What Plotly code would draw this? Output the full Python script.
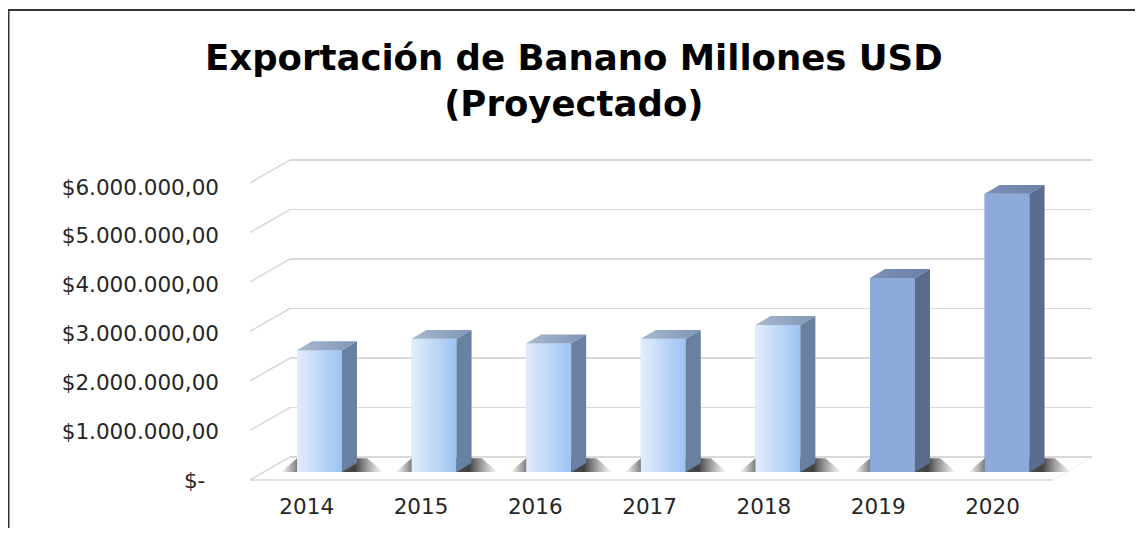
import plotly.graph_objects as go

# ---------------- data ----------------
years = ["2014", "2015", "2016", "2017", "2018", "2019", "2020"]
values = [2460000, 2690000, 2600000, 2690000, 2970000, 3920000, 5620000]
tick_vals = [0, 1000000, 2000000, 3000000, 4000000, 5000000, 6000000]
tick_text = ["$-\u00a0\u00a0", "$1.000.000,00", "$2.000.000,00", "$3.000.000,00",
             "$4.000.000,00", "$5.000.000,00", "$6.000.000,00"]
title_lines = ["Exportación de Banano Millones USD", "(Proyectado)"]
n_real = 5  # first five are light bars, last two darker (projected)

# ---------------- layout constants ----------------
OFF = 8                                 # page body margin
W, H = 1143 - 2 * OFF, 536 - 2 * OFF    # figure size (no scrollbars)
BAR_W = 0.392      # category units
DX = 0.131         # depth offset in category units
DY = 0.18e6        # depth offset in value units
FRONT_SHIFT = 0.465e6  # front-floor offset vs back wall in value units


def px(p):
    return p - OFF


def yrange(zero_page_px, px_per_unit):
    r0 = -(H - px(zero_page_px)) / px_per_unit
    return [r0, r0 + H / px_per_unit]


def xrange_(first_page_px, px_per_cat):
    r0 = -px(first_page_px) / px_per_cat
    return [r0, r0 + W / px_per_cat]


xs = list(range(len(years)))

light = dict(front="#bcd6f8", grad=["#e2edfb", "#9cc3f4"], side="#6880a2", top=["#a9b9cf", "#7f95b5"])
dark = dict(front="#8eaadb", grad=["#8eaadb", "#8eaadb"], side="#5b6b8e", top=["#7d92b8", "#6a7ea6"])
styles = [light if i < n_real else dark for i in xs]

fig = go.Figure()

# subplot xy: back wall gridlines (empty trace so the subplot exists)
fig.add_trace(go.Scatter(x=[], y=[], xaxis="x", yaxis="y", showlegend=False, hoverinfo="skip"))

# shadows on floor
for i, v in zip(xs, values):
    xr = i + BAR_W / 2
    xl = i - BAR_W / 2
    fig.add_trace(go.Scatter(
        x=[xl - 0.14, xr + 0.36, xr + 0.22, xl + 0.0, xl - 0.14],
        y=[0.0e6, 0.0e6, 0.28e6, 0.28e6, 0.0e6],
        fill="toself", mode="none", xaxis="x2", yaxis="y2",
        fillgradient=dict(type="horizontal",
                          colorscale=[[0, "rgba(60,60,60,0.0)"], [0.15, "rgba(50,50,50,0.6)"],
                                      [0.72, "rgba(30,30,30,0.85)"], [1, "rgba(80,80,80,0.0)"]]),
        showlegend=False, hoverinfo="skip"))

# front faces: real bars
fig.add_trace(go.Bar(x=xs, y=values, width=BAR_W, xaxis="x2", yaxis="y2",
                     marker=dict(color=[s["front"] for s in styles], line_width=0),
                     showlegend=False, hoverinfo="skip"))

# gradient on front faces, side and top faces
for i, v, s in zip(xs, values, styles):
    xl = i - BAR_W / 2
    xr = i + BAR_W / 2
    fig.add_trace(go.Scatter(
        x=[xl, xr, xr, xl, xl], y=[0, 0, v, v, 0],
        fill="toself", mode="none", xaxis="x2", yaxis="y2",
        fillgradient=dict(type="horizontal", colorscale=[[0, s["grad"][0]], [1, s["grad"][1]]]),
        showlegend=False, hoverinfo="skip"))
    fig.add_trace(go.Scatter(
        x=[xr, xr + DX, xr + DX, xr, xr], y=[0, DY, v + DY, v, 0],
        fill="toself", mode="none", fillcolor=s["side"], xaxis="x2", yaxis="y2",
        showlegend=False, hoverinfo="skip"))
    fig.add_trace(go.Scatter(
        x=[xl, xr, xr + DX, xl + DX, xl], y=[v, v, v + DY, v + DY, v],
        fill="toself", mode="none", xaxis="x2", yaxis="y2",
        fillgradient=dict(type="horizontal", colorscale=[[0, s["top"][0]], [1, s["top"][1]]]),
        showlegend=False, hoverinfo="skip"))

# label subplot x3y3 (empty)
fig.add_trace(go.Scatter(x=[], y=[], xaxis="x3", yaxis="y3", showlegend=False, hoverinfo="skip"))

grid_color = "#d9d9d9"
shapes = []
left_front, left_back = px(250) / W, px(290) / W
right_front, right_back = px(1053) / W, px(1092) / W
for v in tick_vals:
    shapes.append(dict(type="line", xref="paper", yref="y", x0=left_front, y0=v - FRONT_SHIFT,
                       x1=left_back, y1=v, line=dict(color=grid_color, width=1.5), layer="below"))
shapes.append(dict(type="line", xref="paper", yref="y", x0=left_front, y0=-FRONT_SHIFT,
                   x1=right_front, y1=-FRONT_SHIFT, line=dict(color=grid_color, width=1.5), layer="below"))
shapes.append(dict(type="line", xref="paper", yref="y", x0=right_front, y0=-FRONT_SHIFT,
                   x1=right_back, y1=0, line=dict(color="#eeeeee", width=1), layer="below"))
# outer frame
shapes.append(dict(type="line", xref="paper", yref="paper", x0=0, y0=0, x1=0, y1=1 - px(10) / H,
                   line=dict(color="#333333", width=3)))
shapes.append(dict(type="line", xref="paper", yref="paper", x0=0, y0=1 - px(10) / H, x1=1, y1=1 - px(10) / H,
                   line=dict(color="#333333", width=2)))

font_family = "DejaVu Sans, Verdana, sans-serif"
tick_font = dict(family=font_family, size=21.5, color="#262626")

fig.update_layout(
    width=W, height=H,
    margin=dict(l=0, r=0, t=0, b=0),
    paper_bgcolor="white", plot_bgcolor="rgba(0,0,0,0)",
    showlegend=False,
    shapes=shapes,
    # back wall grid
    xaxis=dict(domain=[px(290) / W, px(1092) / W], range=[0, 1], visible=False, fixedrange=True),
    yaxis=dict(domain=[0, 1], range=yrange(457, 49.5e-6), tickvals=tick_vals, showgrid=True,
               gridcolor=grid_color, gridwidth=1.5, showticklabels=False, zeroline=False,
               showline=False, ticks="", fixedrange=True),
    # bars
    xaxis2=dict(domain=[0, 1], range=xrange_(319.5, 114.6), visible=False, anchor="y2", fixedrange=True),
    yaxis2=dict(domain=[0, 1], range=yrange(472, 49.5e-6), visible=False, anchor="x2", fixedrange=True),
    # labels
    xaxis3=dict(domain=[0, 1], range=xrange_(306.7, 114.3), anchor="free", position=(H - px(491)) / H,
                tickvals=xs, ticktext=years, showgrid=False, zeroline=False, showline=False, ticks="",
                tickfont=tick_font, fixedrange=True),
    yaxis3=dict(domain=[0, 1], range=yrange(480, 48.83e-6), anchor="free", position=px(219) / W,
                tickvals=tick_vals, ticktext=tick_text, showgrid=False, zeroline=False, showline=False,
                ticks="", tickfont=tick_font, fixedrange=True),
    annotations=[dict(text="<b>" + title_lines[0] + "</b><br><b>" + title_lines[1] + "</b>",
                      xref="paper", yref="paper", x=px(574) / W, y=1 - px(80.5) / H,
                      xanchor="center", yanchor="middle", showarrow=False,
                      font=dict(family=font_family, size=35.5, color="#000000"))],
)

fig.write_html("out.html", config={"displayModeBar": False, "staticPlot": True})
